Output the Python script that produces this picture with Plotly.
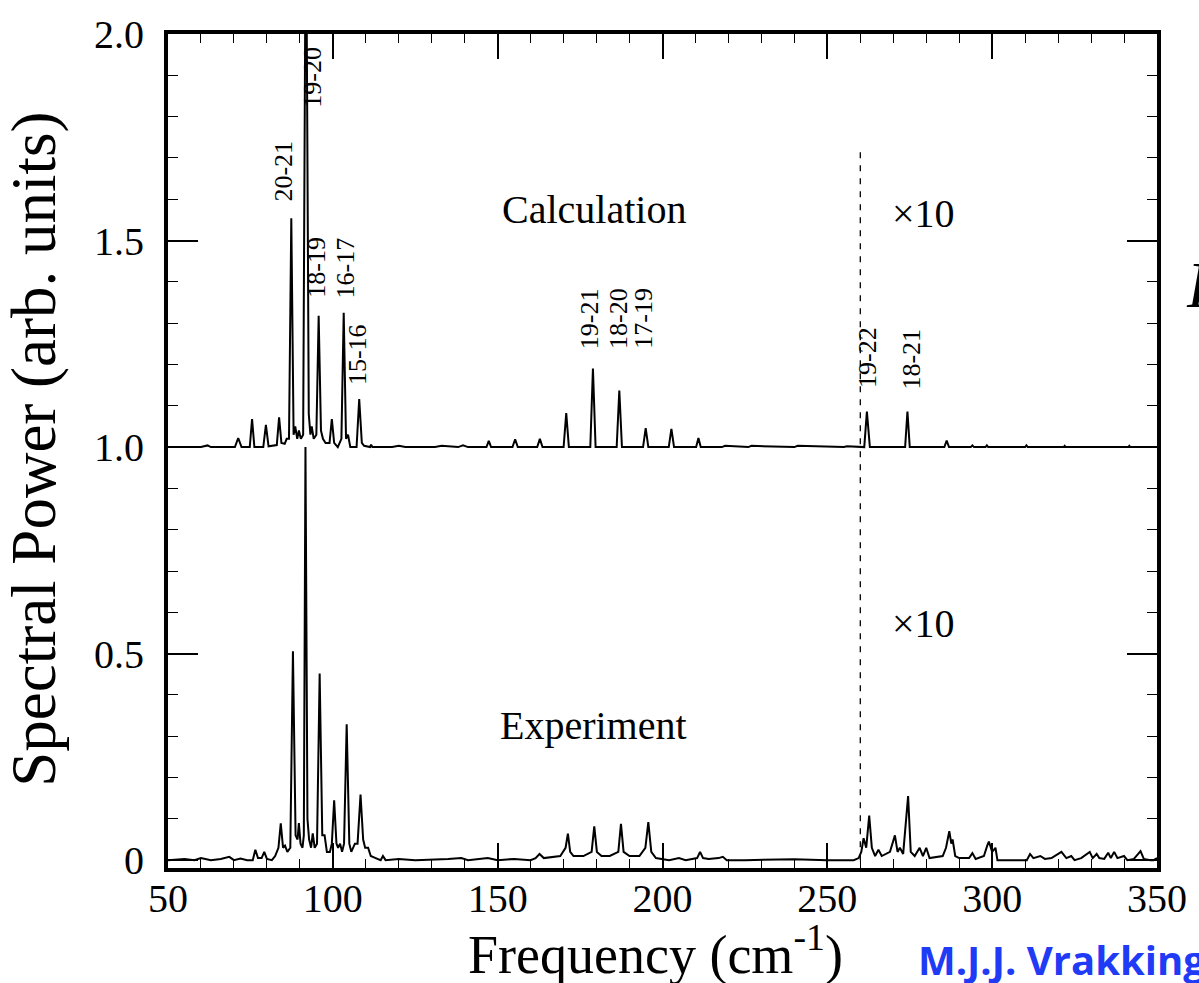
import plotly.graph_objects as go

# ---- Calculation spectrum (offset by +1.0; region beyond 260 cm-1 shown x10) ----
calc_x = [50, 60, 62, 63, 69.5, 70.3, 71.3, 72.3, 74.8, 75.5, 76.2, 78.9, 79.7, 80.5,
          83.0, 83.7, 84.4, 85.4, 86.0, 86.7, 87.4, 88.1, 88.6, 89.2, 89.7, 90.3, 91.0,
          91.6, 92.1, 92.7, 93.2, 93.6, 94.2, 95.0, 95.7, 96.4, 97.0, 97.8, 99.0, 99.7,
          100.4, 101.5, 102.6, 103.3, 104.0, 104.6, 105.3, 107.2, 108.0, 108.8, 109.5,
          111.3, 111.6, 112.0, 118, 120, 122, 131, 133, 138, 139.5, 141, 146.6, 147.3,
          148.0, 154.5, 155.3, 156.1, 162.0, 162.8, 163.6, 170.0, 170.8, 171.6, 178.1,
          178.9, 179.7, 186.1, 186.9, 187.7, 194.1, 194.9, 195.7, 201.9, 202.7, 203.5,
          210.2, 210.9, 211.6, 218, 219, 226, 227, 240, 241, 255, 256, 261.2, 262.0,
          262.9, 273.6, 274.3, 275.0, 285.5, 286.2, 286.9, 293.5, 294.0, 294.5, 298.0,
          298.4, 298.8, 310.0, 310.4, 310.8, 321.7, 322.0, 322.3, 341.3, 341.6, 341.9, 350]
calc_y = [1.0, 1.0, 1.004, 1.0, 1.0, 1.0, 1.022, 1.0, 1.0, 1.068, 1.0, 1.0, 1.054, 1.002,
          1.005, 1.072, 1.01, 1.008, 1.02, 1.02, 1.554, 1.03, 1.05, 1.02, 1.04, 1.02, 1.03,
          2.0, 2.0, 1.08, 1.03, 1.05, 1.02, 1.03, 1.318, 1.04, 1.02, 1.01, 1.01, 1.068,
          1.01, 1.0, 1.02, 1.325, 1.02, 1.03, 1.0, 1.0, 1.116, 1.01, 1.003,
          1.0, 1.006, 1.0, 1.0, 1.003, 1.0, 1.0, 1.003, 1.0, 1.004, 1.0, 1.0, 1.015,
          1.0, 1.0, 1.019, 1.0, 1.0, 1.02, 1.0, 1.0, 1.082, 1.0, 1.0,
          1.19, 1.0, 1.0, 1.137, 1.0, 1.0, 1.046, 1.0, 1.0, 1.044, 1.0,
          1.0, 1.022, 1.0, 1.0, 1.003, 1.0, 1.003, 1.0, 1.003, 1.0, 1.002, 1.0, 1.086,
          1.0, 1.0, 1.086, 1.0, 1.0, 1.016, 1.0, 1.0, 1.004, 1.0, 1.0,
          1.004, 1.0, 1.0, 1.004, 1.0, 1.0, 1.003, 1.0, 1.0, 1.003, 1.0, 1.0]

# ---- Experiment spectrum (region beyond 260 cm-1 shown x10) ----
exp_x = [50, 55, 58, 60, 63, 66, 68.6, 70, 72, 74, 75.7, 76.5, 77.3, 78.4, 79.2, 80,
         81.5, 82.5, 83.5, 84.2, 84.9, 85.5, 86.2, 87.1, 87.9, 88.7, 89.3, 89.7, 90.2,
         90.8, 91.2, 91.7, 92.3, 92.8, 93.4, 93.9, 94.5, 95.2, 96.0, 96.8, 97.5, 98.2,
         99.1, 99.7, 100.4, 101.1, 101.6, 102.2, 102.8, 103.4, 104.2, 105.0, 105.6,
         106.2, 106.7, 107.5, 108.4, 109.2, 109.8, 110.7, 111.5, 113, 114.5, 115.2,
         116, 120, 125, 135, 139, 141, 147, 150, 155, 160, 161.5, 162.7, 164, 169.0,
         169.9, 170.6, 171.3, 172.0, 173, 176, 178.5, 179.3, 180.1, 181.5, 184, 186.6,
         187.4, 188.2, 190, 193, 194.8, 195.7, 196.6, 198, 202, 205, 207, 210.5, 211.4,
         212.3, 214, 217, 218.3, 219.5, 225, 240, 250, 258, 259.5, 260.3, 261, 261.8,
         262.7, 263.5, 264.5, 265.5, 266.5, 268, 269, 270.5, 271.3, 272, 273, 274.5,
         275.3, 276.5, 278, 279, 280, 281, 285, 286, 287, 287.6, 288, 288.8, 290, 293,
         294, 295, 297.5, 298.5, 299, 300, 301, 301.6, 302.5, 310.5, 311.5, 312.5,
         314.6, 316, 318, 321, 322.5, 324, 325, 327, 329.6, 330.5, 331.7, 332.5, 334,
         335.2, 336, 337, 338, 340, 341, 343, 345, 346, 348, 349, 350]
exp_y = [0.0, 0.003, 0.0, 0.005, 0.0, 0.003, 0.008, 0.0, 0.004, 0.0, 0.0, 0.025, 0.005,
         0.005, 0.02, 0.003, 0.0, 0.01, 0.03, 0.089, 0.03, 0.035, 0.02, 0.03, 0.506,
         0.06, 0.05, 0.09, 0.04, 0.03, 0.06, 1.0, 0.1, 0.05, 0.03, 0.065, 0.03, 0.04,
         0.452, 0.06, 0.06, 0.02, 0.02, 0.04, 0.145, 0.04, 0.03, 0.04, 0.02, 0.04, 0.329,
         0.04, 0.02, 0.03, 0.04, 0.04, 0.159, 0.05, 0.03, 0.03, 0.01, 0.005, 0.0, 0.01,
         0.0, 0.003, 0.0, 0.003, 0.005, 0.0, 0.005, 0.0, 0.003, 0.0, 0.005, 0.015, 0.005,
         0.01, 0.02, 0.03, 0.064, 0.02, 0.01, 0.01, 0.02, 0.082, 0.02, 0.01, 0.01, 0.02,
         0.088, 0.02, 0.01, 0.01, 0.03, 0.092, 0.02, 0.005, 0.0, 0.005, 0.0, 0.005, 0.02,
         0.005, 0.003, 0.005, 0.008, 0.0, 0.0, 0.002, 0.0, 0.0, 0.005, 0.02, 0.053, 0.03,
         0.108, 0.03, 0.01, 0.025, 0.01, 0.015, 0.02, 0.06, 0.02, 0.03, 0.015, 0.155,
         0.02, 0.01, 0.03, 0.01, 0.03, 0.005, 0.01, 0.03, 0.07, 0.04, 0.05, 0.01, 0.005,
         0.005, 0.017, 0.003, 0.01, 0.035, 0.045, 0.02, 0.03, 0.0, 0.0, 0.0, 0.015, 0.005,
         0.01, 0.003, 0.005, 0.02, 0.005, 0.01, 0.0, 0.005, 0.02, 0.005, 0.015, 0.005,
         0.003, 0.018, 0.005, 0.02, 0.005, 0.01, 0.0, 0.003, 0.022, 0.003, 0.0, 0.0, 0.005]

# ---- Peak assignment labels ----
peak_labels = ["20-21", "19-20", "18-19", "16-17", "15-16",
               "19-21", "18-20", "17-19", "19-22", "18-21"]
label_x = [85.2, 93.9, 95.1, 103.9, 107.5, 177.9, 186.6, 194.4, 262.2, 275.4]
label_y = [1.667, 1.896, 1.436, 1.434, 1.224, 1.311, 1.311, 1.311, 1.217, 1.212]

# ---- Panel texts ----
panel_texts = ["Calculation", "\u00d710", "Experiment", "\u00d710"]
panel_x = [179.1, 279.3, 179.1, 279.3]
panel_y = [1.576, 1.566, 0.325, 0.573]

scale_break = 260
y_tick_vals = [0, 0.5, 1.0, 1.5, 2.0]
y_tick_text = ["0", "0.5", "1.0", "1.5", "2.0"]

SERIF = "Liberation Serif, Times New Roman, serif"

fig = go.Figure()
fig.add_trace(go.Scatter(x=calc_x, y=calc_y, mode="lines",
                         line=dict(color="black", width=2), showlegend=False))
fig.add_trace(go.Scatter(x=exp_x, y=exp_y, mode="lines",
                         line=dict(color="black", width=2), showlegend=False))

fig.add_shape(type="line", x0=scale_break, x1=scale_break, y0=0, y1=1.72,
              xref="x", yref="y", line=dict(color="black", width=1.3, dash="6px,7px"))

for t, x, y in zip(peak_labels, label_x, label_y):
    fig.add_annotation(x=x, y=y, text=t, textangle=-90, showarrow=False,
                       font=dict(family=SERIF, size=26, color="black"))

for t, x, y in zip(panel_texts, panel_x, panel_y):
    fig.add_annotation(x=x, y=y, text=t, showarrow=False,
                       font=dict(family=SERIF, size=40, color="black"))

# axis titles
fig.add_annotation(xref="paper", yref="paper", x=0.4925, y=-0.099,
                   xanchor="center", yanchor="middle",
                   text="Frequency (cm<sup>-1</sup>)", showarrow=False,
                   font=dict(family=SERIF, size=54, color="black"))
fig.add_annotation(xref="paper", yref="paper", x=-0.135, y=0.502,
                   xanchor="center", yanchor="middle",
                   text="Spectral Power (arb. units)", textangle=-90, showarrow=False,
                   font=dict(family=SERIF, size=63, color="black"))
# slide remnants
fig.add_annotation(xref="paper", yref="paper", x=0.756, y=-0.1098,
                   xanchor="left", yanchor="middle",
                   text="<b>M.J.J. Vrakking</b>", showarrow=False,
                   font=dict(family="Open Sans, Liberation Sans, sans-serif", size=40,
                             color="#1f3bf5"))
fig.add_annotation(xref="paper", yref="paper", x=1.027, y=0.70,
                   xanchor="left", yanchor="middle",
                   text="<i>P</i>", showarrow=False,
                   font=dict(family=SERIF, size=66, color="black"))

fig.update_layout(
    width=1199, height=983,
    margin=dict(l=168, r=34, t=30, b=115),
    paper_bgcolor="white", plot_bgcolor="white",
    font=dict(family=SERIF, color="black"),
)
fig.update_xaxes(
    range=[50, 350], tickmode="linear", tick0=50, dtick=50,
    ticks="inside", ticklen=25, tickwidth=1.5, tickcolor="black",
    minor=dict(ticks="inside", ticklen=9, tickwidth=1.3, tickcolor="black",
               tickmode="linear", tick0=50, dtick=10, showgrid=False),
    showline=True, linewidth=4, linecolor="black", mirror="ticks",
    showgrid=False, zeroline=False,
    tickfont=dict(family=SERIF, size=40, color="black"), ticklabelstandoff=-8,
)
fig.update_yaxes(
    range=[-0.019, 2.0], tickmode="array", tickvals=y_tick_vals, ticktext=y_tick_text,
    ticks="inside", ticklen=30, tickwidth=1.5, tickcolor="black",
    minor=dict(ticks="inside", ticklen=10, tickwidth=1.3, tickcolor="black",
               tickmode="linear", tick0=0, dtick=0.1, showgrid=False),
    showline=True, linewidth=4, linecolor="black", mirror="ticks",
    showgrid=False, zeroline=False,
    tickfont=dict(family=SERIF, size=40, color="black"), ticklabelstandoff=12,
)

fig.write_html("out.html")
